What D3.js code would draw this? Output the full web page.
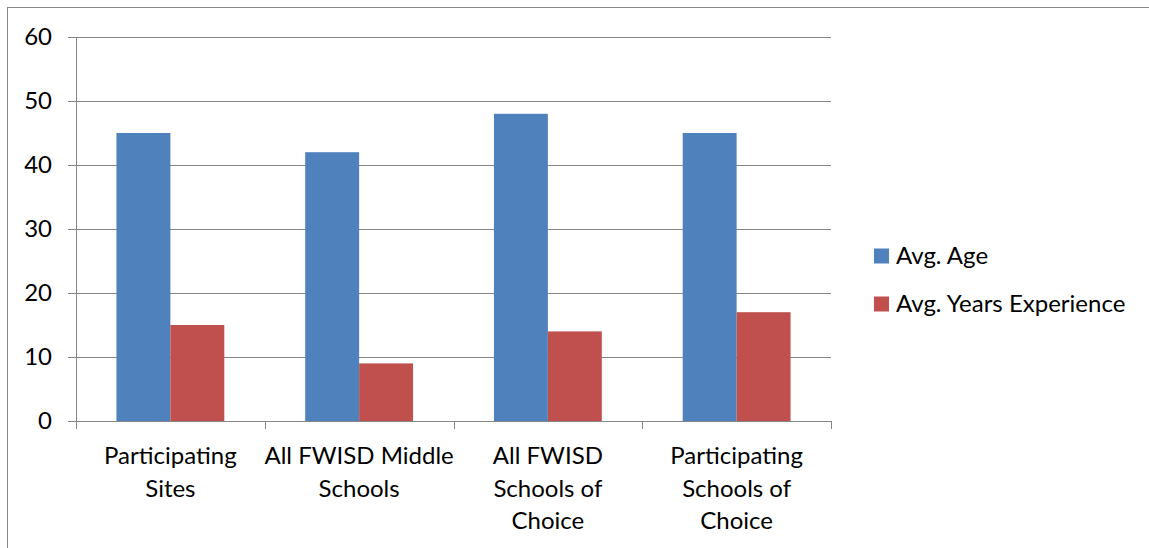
<!DOCTYPE html>
<html><head><meta charset="utf-8">
<script src="https://cdn.jsdelivr.net/npm/d3@7"></script>
<style>body{margin:0;background:#fff}svg{display:block}text{font-family:Lato,"Open Sans",sans-serif;fill:#000}</style>
</head><body>
<svg id="c" width="1149" height="548"></svg>
<script>
const categories = ["Participating Sites","All FWISD Middle Schools","All FWISD Schools of Choice","Participating Schools of Choice"];
const categoryLines = [["Participating","Sites"],["All FWISD Middle","Schools"],["All FWISD","Schools of","Choice"],["Participating","Schools of","Choice"]];
const seriesNames = ["Avg. Age","Avg. Years Experience"];
const avgAge = [45,42,48,45];
const avgExperience = [15,9,14,17];
const yTicks = [0,10,20,30,40,50,60];
const colors = ["#4F81BD","#C0504D"];
const FS = 24;

const svg = d3.select("#c");
svg.append("rect").attr("x",7.5).attr("y",7.5).attr("width",1160).attr("height",560)
  .attr("fill","none").attr("stroke","#888").attr("stroke-width",1);

const L=76, R=831, T=37, B=421;
const x = d3.scaleBand().domain(categories).range([L,R]).paddingInner(0).paddingOuter(0);
const y = d3.scaleLinear().domain([0,60]).range([B,T]);
const seriesVals = [avgAge, avgExperience];
const bw = x.bandwidth()/3.5;

const g = svg.append("g");
yTicks.forEach(t=>{
  g.append("line").attr("x1",68).attr("x2",R).attr("y1",Math.round(y(t))+0.5).attr("y2",Math.round(y(t))+0.5)
   .attr("stroke","#868686").attr("stroke-width",1);
  g.append("text").attr("x",52).attr("y",y(t)).attr("dy","0.35em").attr("text-anchor","end")
   .attr("font-size",FS).text(t);
});
g.append("line").attr("x1",L+0.5).attr("x2",L+0.5).attr("y1",T).attr("y2",B).attr("stroke","#868686");

categories.forEach((c,i)=>{
  seriesVals.forEach((vals,s)=>{
    const x0 = x(c) + 0.75*bw + s*bw;
    svg.append("rect").attr("x",x0).attr("width",bw)
      .attr("y",y(vals[i])).attr("height",y(0)-y(vals[i]))
      .attr("fill",colors[s]);
  });
});

svg.append("line").attr("x1",68).attr("x2",R).attr("y1",B+0.5).attr("y2",B+0.5).attr("stroke","#868686");
const bounds = categories.map(c=>x(c)).concat([R]);
bounds.forEach(b=>{
  svg.append("line").attr("x1",Math.round(b)+0.5).attr("x2",Math.round(b)+0.5).attr("y1",B).attr("y2",B+8).attr("stroke","#868686");
});
categories.forEach((c,i)=>{
  const t = svg.append("text").attr("text-anchor","middle").attr("font-size",FS);
  categoryLines[i].forEach((ln,k)=>{
    t.append("tspan").attr("x",x(c)+x.bandwidth()/2).attr("y",456+k*32.5).attr("dy","0.35em").text(ln);
  });
});

seriesNames.forEach((n,s)=>{
  const cy = 256 + s*48;
  svg.append("rect").attr("x",874).attr("y",cy-7.5).attr("width",15).attr("height",15).attr("fill",colors[s]);
  svg.append("text").attr("x",896).attr("y",cy).attr("dy","0.35em").attr("font-size",FS).text(n);
});
</script>
</body></html>
